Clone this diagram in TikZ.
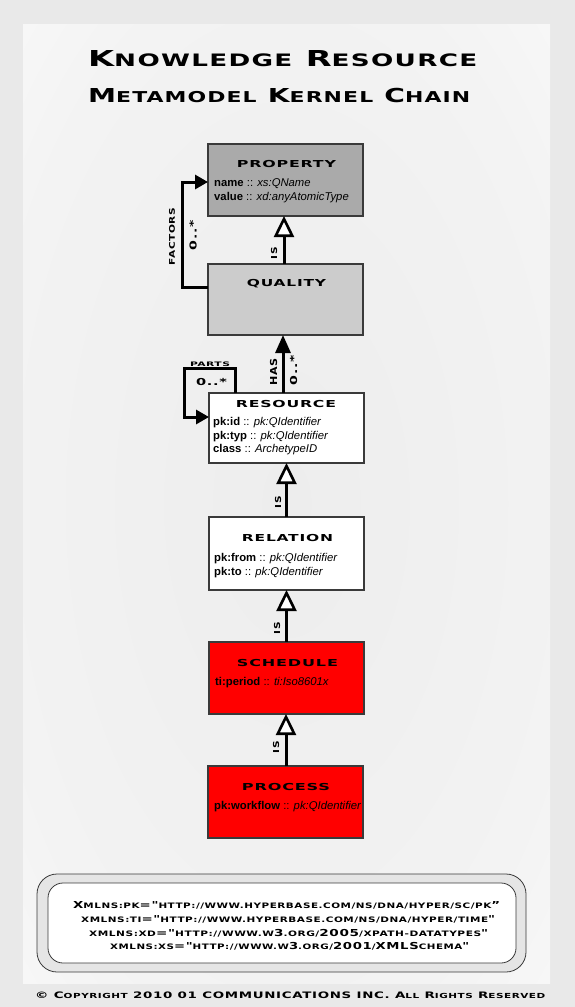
\documentclass[tikz,border=0pt]{standalone}
\usepackage{fontspec}
\usepackage{graphicx}
\setmainfont{Liberation Sans}
\newfontfamily\capsfont{DejaVu Sans}[LetterSpace=5]
\usetikzlibrary{arrows.meta}
\newcommand\sm[1]{{\fontsize{7.8}{9}\selectfont #1}}
\newcommand\fitbox[3]{\resizebox{#1}{#2}{\smash{#3}\rule{0pt}{\fontcharht\font`X}}}
\newcommand\att[2]{\textbf{#1} :: \textit{#2}}
\definecolor{bgout}{HTML}{E9E9E9}
\definecolor{boxline}{HTML}{3A3A3A}
\definecolor{propfill}{HTML}{AAAAAA}
\definecolor{qualfill}{HTML}{CCCCCC}
\definecolor{redfill}{HTML}{FF0000}
\definecolor{panelmid}{HTML}{EDEDED}
\definecolor{panelmid2}{HTML}{F3F3F3}
\pgfdeclareradialshading{panelshade}{\pgfpointorigin}{color(0bp)=(panelmid); color(28bp)=(panelmid2); color(50bp)=(white)}
\begin{document}
\begin{tikzpicture}[x=1pt,y=-1pt,
  box/.style={draw=boxline, line width=1.2pt, minimum width=155pt, inner sep=0pt, outer sep=0pt},
  btitle/.style={inner sep=0pt, font=\capsfont\bfseries\fontsize{10}{12}\selectfont},
  attr/.style={anchor=base west, inner sep=0pt, font=\fontsize{11.3}{13}\selectfont},
  lbl/.style={inner sep=0pt, font=\capsfont\bfseries\fontsize{10}{12}\selectfont},
  ttl/.style={inner sep=0pt, anchor=base west, font=\capsfont\bfseries\fontsize{10}{12}\selectfont},
  nstext/.style={inner sep=0pt, anchor=base west, font=\capsfont\bfseries\fontsize{10}{12}\selectfont},
  isarrow/.style={line width=3pt, -{Triangle[open,fill=white,length=21pt,width=20pt,line width=2.6pt]}},
  hasarrow/.style={line width=3pt, -{Triangle[length=18pt,width=15pt]}},
  loopline/.style={line width=3pt, -{Triangle[length=13pt,width=14pt]}}
]
\useasboundingbox (0,0) rectangle (575,1007);
% background
\fill[bgout] (0,0) rectangle (575,1007);
\fill[white] (23,24) rectangle (550,983);
\shade[shading=panelshade] (23,24) rectangle (550,983);

% title
\node[ttl] (t1) at (88,66.7) {\fitbox{389pt}{16pt}{K\sm{NOWLEDGE} R\sm{ESOURCE}}};
\node[ttl] (t2) at (88,102.7) {\fitbox{382pt}{14pt}{M\sm{ETAMODEL} K\sm{ERNEL} C\sm{HAIN}}};

% boxes
\node[box, fill=propfill, minimum height=72pt] (prop) at (285.5,180) {};
\node[box, fill=qualfill, minimum height=71pt] (qual) at (285.5,299.5) {};
\node[box, fill=white, minimum height=70pt] (res) at (286.5,428) {};
\node[box, fill=white, minimum height=73pt] (rel) at (286.5,553.5) {};
\node[box, fill=redfill, minimum height=72pt] (sched) at (286.5,678) {};
\node[box, fill=redfill, minimum height=72pt] (proc) at (285.5,802) {};

% box titles
\node[btitle] (propT) at (286.5,164.2) {\fitbox{99pt}{7pt}{PROPERTY}};
\node[btitle] (qualT) at (286.5,283.3) {\fitbox{79pt}{7pt}{QUALITY}};
\node[btitle] (resT) at (286,404) {\fitbox{100pt}{7pt}{RESOURCE}};
\node[btitle] (relT) at (287.5,537.7) {\fitbox{91pt}{7pt}{RELATION}};
\node[btitle] (schedT) at (287.5,663) {\fitbox{101pt}{7pt}{SCHEDULE}};
\node[btitle] (procT) at (286,786.7) {\fitbox{88pt}{7pt}{PROCESS}};

% attributes
\node[attr] (pa1) at (214,186.7) {\att{name}{xs:QName}};
\node[attr] (pa2) at (214,200.7) {\att{value}{xd:anyAtomicType}};
\node[attr] (ra1) at (213,425.5) {\att{pk:id}{pk:QIdentifier}};
\node[attr] (ra2) at (213,439) {\att{pk:typ}{pk:QIdentifier}};
\node[attr] (ra3) at (213,452.5) {\att{class}{ArchetypeID}};
\node[attr] (la1) at (214,561.7) {\att{pk:from}{pk:QIdentifier}};
\node[attr] (la2) at (214,575) {\att{pk:to}{pk:QIdentifier}};
\node[attr] (sa1) at (215,685) {\att{ti:period}{ti:Iso8601x}};
\node[attr] (ca1) at (214,809) {\att{pk:workflow}{pk:QIdentifier}};

% inheritance connectors
\draw[isarrow] ([xshift=-1.5pt]qual.north) -- ([xshift=-1.5pt]prop.south);
\draw[isarrow] (rel.north) -- (res.south);
\draw[isarrow] (sched.north) -- (rel.south);
\draw[isarrow] ([xshift=0.5pt]proc.north) -- ([xshift=-0.5pt]sched.south);
\draw[hasarrow] ([xshift=-3.5pt]res.north) -- ([xshift=-2.5pt]qual.south);

% loops
\coordinate (fl) at (182,240);
\draw[loopline] ([yshift=12.5pt]qual.west) -| (fl) |- ([yshift=-2pt]prop.west);
\coordinate (pl) at (184,368);
\draw[loopline] ([xshift=26pt]res.north west) |- (pl) |- ([yshift=11pt]res.west);

% labels
\node[lbl, rotate=90] (is1) at (274,253) {\fitbox{12pt}{6pt}{IS}};
\node[lbl, rotate=90] (is2) at (278,502) {\fitbox{12pt}{6pt}{IS}};
\node[lbl, rotate=90] (is3) at (277,628) {\fitbox{12pt}{6pt}{IS}};
\node[lbl, rotate=90] (is4) at (276,747) {\fitbox{12pt}{6pt}{IS}};
\node[lbl, rotate=90] (has) at (273.5,371.5) {\fitbox{27pt}{7pt}{HAS}};
\node[lbl, rotate=90] (hasm) at (293.5,370) {\fitbox{30pt}{7pt}{0..*}};
\node[lbl, rotate=90] (fac) at (172,236.5) {\fitbox{57pt}{5.7pt}{FACTORS}};
\node[lbl, rotate=90] (facm) at (193,235) {\fitbox{30pt}{7pt}{0..*}};
\node[lbl] (parts) at (210,364) {\fitbox{40pt}{4.5pt}{PARTS}};
\node[lbl] (partsm) at (211.5,381.5) {\fitbox{31pt}{7pt}{0..*}};

% namespace box
\node[draw=boxline, line width=0.8pt, fill=black!10, rounded corners=20pt, minimum width=489pt, minimum height=98pt, inner sep=0pt] (nsout) at (281.5,923) {};
\node[draw=boxline, line width=0.8pt, fill=white, rounded corners=15pt, minimum width=468pt, minimum height=80pt, inner sep=0pt] (nsin) at (282,923) {};
\node[nstext] (ns1) at (73,908) {\fitbox{427pt}{7pt}{X\sm{MLNS:PK}="\sm{HTTP://WWW.HYPERBASE.COM/NS/DNA/HYPER/SC/PK}”}};
\node[nstext] (ns2) at (81,922) {\fitbox{414pt}{7pt}{\sm{XMLNS:TI}="\sm{HTTP://WWW.HYPERBASE.COM/NS/DNA/HYPER/TIME}"}};
\node[nstext] (ns3) at (89,936) {\fitbox{399pt}{7pt}{\sm{XMLNS:XD}="\sm{HTTP://WWW.W}3\sm{.ORG/}2005\sm{/XPATH-DATATYPES}"}};
\node[nstext] (ns4) at (110,949.5) {\fitbox{359pt}{7pt}{\sm{XMLNS:XS}="\sm{HTTP://WWW.W}3\sm{.ORG/}2001\sm{/}XMLS\sm{CHEMA}"}};

% copyright
\node[nstext] (copy) at (35,998) {\fitbox{510pt}{6.5pt}{© C\sm{OPYRIGHT} 2010 01 COMMUNICATIONS INC. A\sm{LL} R\sm{IGHTS} R\sm{ESERVED}}};
\end{tikzpicture}
\end{document}
